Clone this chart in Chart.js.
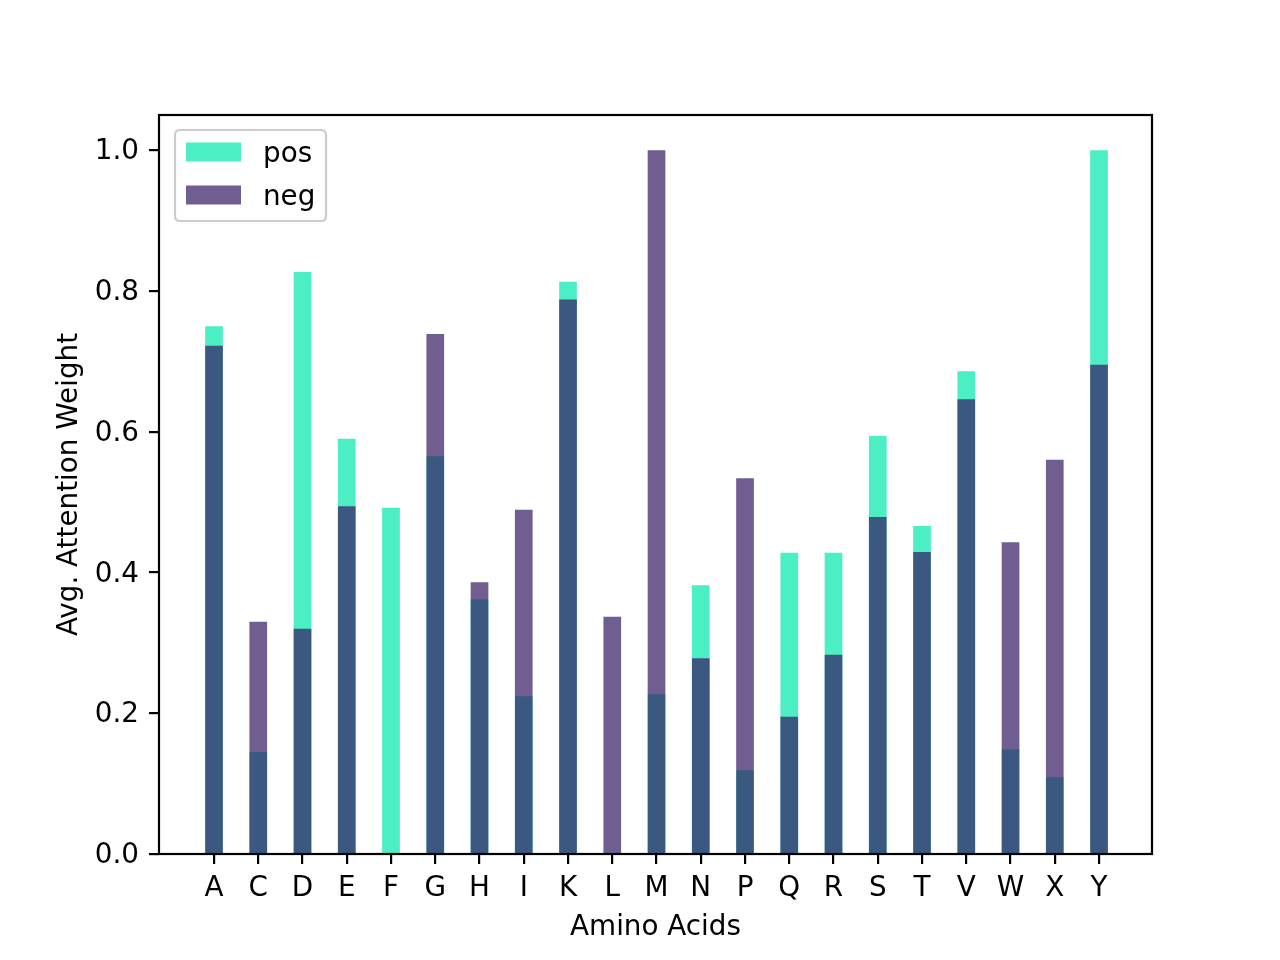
<!DOCTYPE html>
<html>
<head>
<meta charset="utf-8">
<script src="https://cdn.jsdelivr.net/npm/chart.js@4.4.1/dist/chart.umd.min.js"></script>
<style>
  html, body { margin: 0; padding: 0; background: #ffffff; }
  canvas { display: block; }
</style>
</head>
<body>
<canvas id="c" width="1280" height="960"></canvas>
<script>
const categories = ['A','C','D','E','F','G','H','I','K','L','M','N','P','Q','R','S','T','V','W','X','Y'];
const posValues = [0.750,0.145,0.827,0.590,0.492,0.565,0.362,0.224,0.813,0.000,0.227,0.382,0.119,0.428,0.428,0.594,0.466,0.686,0.149,0.109,1.000];
const negValues = [0.722,0.330,0.320,0.494,0.000,0.739,0.386,0.489,0.788,0.337,1.000,0.278,0.534,0.195,0.283,0.479,0.429,0.646,0.443,0.560,0.695];
const yTicks = [0.0, 0.2, 0.4, 0.6, 0.8, 1.0];

const FONT = "'DejaVu Sans', sans-serif";
const FS = 27.8;

const framePlugin = {
  id: 'frame',
  afterDraw(chart) {
    const {ctx, chartArea: a} = chart;
    ctx.save();
    ctx.strokeStyle = '#000000';
    ctx.lineWidth = 2.2;
    ctx.strokeRect(a.left, a.top, a.right - a.left, a.bottom - a.top);
    ctx.restore();
  }
};

const legendPlugin = {
  id: 'mplLegend',
  afterDraw(chart) {
    const {ctx, chartArea: a} = chart;
    const x = a.left + 16, y = a.top + 15, w = 151, h = 91, r = 5;
    ctx.save();
    ctx.beginPath();
    ctx.moveTo(x + r, y);
    ctx.lineTo(x + w - r, y);
    ctx.quadraticCurveTo(x + w, y, x + w, y + r);
    ctx.lineTo(x + w, y + h - r);
    ctx.quadraticCurveTo(x + w, y + h, x + w - r, y + h);
    ctx.lineTo(x + r, y + h);
    ctx.quadraticCurveTo(x, y + h, x, y + h - r);
    ctx.lineTo(x, y + r);
    ctx.quadraticCurveTo(x, y, x + r, y);
    ctx.closePath();
    ctx.fillStyle = 'rgba(255,255,255,0.8)';
    ctx.fill();
    ctx.strokeStyle = '#cccccc';
    ctx.lineWidth = 2.2;
    ctx.stroke();
    ctx.font = FS + 'px ' + FONT;
    ctx.textBaseline = 'middle';
    ctx.textAlign = 'left';
    chart.data.datasets.forEach((ds, i) => {
      const ry = y + 22 + i * 43;
      ctx.fillStyle = '#ffffff';
      ctx.fillRect(x + 11, ry - 9.5, 55, 19);
      ctx.fillStyle = ds.backgroundColor;
      ctx.fillRect(x + 11, ry - 9.5, 55, 19);
      ctx.fillStyle = '#000000';
      ctx.fillText(ds.label, x + 88, ry + 3);
    });
    ctx.restore();
  }
};

new Chart(document.getElementById('c'), {
  type: 'bar',
  data: {
    datasets: [
      {
        label: 'pos',
        data: posValues.map((v, i) => ({x: i, y: v})),
        backgroundColor: 'rgba(0,231,171,0.7)',
        borderWidth: 0,
        grouped: false,
        order: 2,
        categoryPercentage: 1.0,
        barPercentage: 0.4
      },
      {
        label: 'neg',
        data: negValues.map((v, i) => ({x: i, y: v})),
        backgroundColor: 'rgba(51,26,99,0.7)',
        borderWidth: 0,
        grouped: false,
        order: 1,
        categoryPercentage: 1.0,
        barPercentage: 0.4
      }
    ]
  },
  options: {
    responsive: false,
    animation: false,
    devicePixelRatio: 1,
    layout: { padding: { left: 0, right: 128, top: 115, bottom: 0 } },
    plugins: { legend: { display: false }, tooltip: { enabled: false } },
    scales: {
      x: {
        type: 'linear',
        min: -1.243,
        max: 21.197,
        offset: false,
        afterBuildTicks: (s) => { s.ticks = categories.map((c, i) => ({value: i})); },
        afterFit: (s) => { s.height = 106; },
        ticks: {
          autoSkip: false,
          maxRotation: 0,
          padding: 8,
          color: '#000000',
          font: { family: FONT, size: FS },
          callback: (v) => categories[v]
        },
        grid: { offset: false, drawOnChartArea: false, drawTicks: true, tickLength: 10, color: '#000000', lineWidth: 2.2 },
        border: { display: false },
        title: { display: true, text: 'Amino Acids', color: '#000000', font: { family: FONT, size: FS }, padding: { top: 0, bottom: 16 } }
      },
      y: {
        type: 'linear',
        min: 0,
        max: 1.05,
        afterBuildTicks: (s) => { s.ticks = yTicks.map(v => ({value: v})); },
        afterFit: (s) => { s.width = 159; },
        ticks: {
          padding: 10,
          labelOffset: 2,
          color: '#000000',
          font: { family: FONT, size: FS },
          callback: (v) => Number(v).toFixed(1)
        },
        grid: { drawOnChartArea: false, drawTicks: true, tickLength: 10, color: '#000000', lineWidth: 2.2 },
        border: { display: false },
        title: { display: true, text: 'Avg. Attention Weight', color: '#000000', font: { family: FONT, size: FS }, padding: { top: 53, bottom: 0 } }
      }
    }
  },
  plugins: [framePlugin, legendPlugin]
});
</script>
</body>
</html>
